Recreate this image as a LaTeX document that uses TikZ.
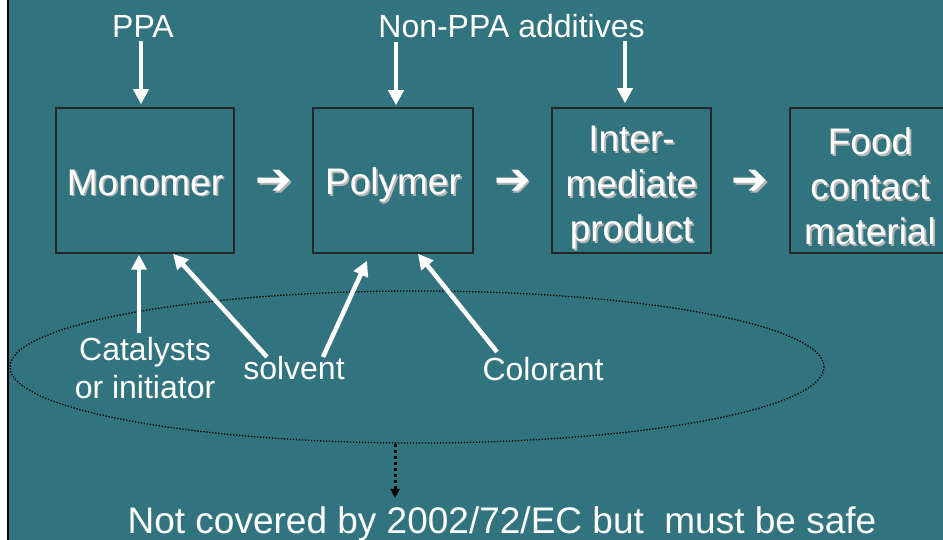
\documentclass[tikz,border=0pt]{standalone}
\usepackage{fontspec}
\setmainfont{Liberation Sans}
\newfontfamily\symfont{DejaVu Sans}
\usetikzlibrary{arrows.meta,shapes.geometric}
\definecolor{slide}{HTML}{31747F}
\definecolor{shade}{HTML}{B4B4B4}
\newcommand\shd[1]{\rlap{\kern1.8pt\raisebox{-1.8pt}{\color{shade}#1}}#1}

\begin{document}
\begin{tikzpicture}[x=1pt,y=-1pt,
	stage/.style={draw=black!85,line width=1.5pt,minimum height=145pt,text=white,align=center,font=\fontsize{37}{45}\selectfont,inner sep=0pt},
	lbl/.style={text=white,font=\fontsize{32}{38}\selectfont,align=center,inner sep=0pt},
	turn/.style={text=white,font=\symfont\fontsize{44}{48}\selectfont,inner sep=0pt},
	feed/.style={draw=white,line width=4.5pt,-{Triangle[length=15pt,width=15pt]}},
	excl/.style={draw=black,line width=3pt,dash pattern=on 3pt off 3pt,-{Triangle[length=9pt,width=9pt]}}]
	\useasboundingbox (0,0) rectangle (943,540);
	\fill[white] (0,0) rectangle (943,540);
	\fill[slide] (8,0) rectangle (943,540);
	\draw[black,line width=2pt] (8,0) -- (8,540);
	\node[stage,minimum width=178pt] (mono) at (145,180.5) {\rule{0pt}{37pt}\shd{Monomer}\vphantom{y}};
	\node[stage,minimum width=160pt] (poly) at (393,180.5) {\rule{0pt}{37pt}\shd{Polymer}};
	\node[stage,minimum width=159pt] (inter) at (631.5,180.5) {\rule{0pt}{41pt}\shd{Inter-}\\\shd{mediate}\\\shd{product}};
	\node[stage,minimum width=160pt] (fcm) at (870,180.5) {\rule{0pt}{41pt}\shd{Food}\\\shd{contact}\\\shd{material}};
	\node[turn] (t1) at (274,183) {\shd{➔}};
	\node[turn] (t2) at (512.5,183) {\shd{➔}};
	\node[turn] (t3) at (750,183) {\shd{➔}};
	\node[lbl] (ppa) at (143,26) {PPA};
	\node[lbl] (nonppa) at (511.5,26) {Non-PPA additives};
	\node[lbl,anchor=north] (cat) at (145,337) {Catalysts\\or initiator};
	\node[lbl] (solv) at (294,368) {solvent};
	\node[lbl] (col) at (543,369) {Colorant};
	\node[draw=black,line width=1.3pt,dash pattern=on 1.3pt off 1.7pt,ellipse,minimum width=814pt,minimum height=152pt,inner sep=0pt] (grp) at (417,367) {};
	\node[text=white,font=\fontsize{37}{42}\selectfont,inner sep=0pt,anchor=base] (note) at (502,533) {Not covered by 2002/72/EC but\ \ must be safe};
	\draw[feed,shorten <=4pt,shorten >=3pt] ([xshift=-2pt]ppa.south) -- ([xshift=-4pt]mono.north);
	\draw[feed,shorten <=4pt,shorten >=2pt] ([xshift=-115.5pt]nonppa.south) -- ([xshift=3pt]poly.north);
	\draw[feed,shorten <=3pt,shorten >=4pt] ([xshift=113.5pt]nonppa.south) -- ([xshift=-6.5pt]inter.north);
	\draw[feed,shorten <=4pt,shorten >=1pt] ([xshift=-6pt]cat.north) -- ([xshift=-6pt]mono.south);
	\draw[feed] ([shift={(-27,-11)}]solv.center) -- ([xshift=28pt]mono.south);
	\draw[feed] ([shift={(29,-11)}]solv.center) -- ([shift={(-26,7)}]poly.south);
	\draw[feed] ([shift={(-46,-17)}]col.center) -- ([xshift=25pt]poly.south);
	\draw[excl,shorten >=8pt] ([xshift=-22pt]grp.south) -- ([xshift=-22pt]grp.south |- note.north);
\end{tikzpicture}
\end{document}
